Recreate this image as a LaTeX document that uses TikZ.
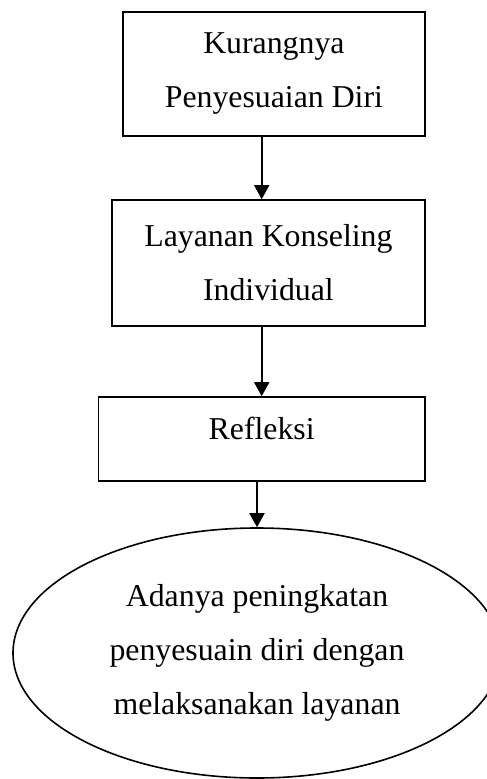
\documentclass[tikz,border=0pt]{standalone}
\usepackage{fontspec}
\setmainfont{Liberation Serif}
\usetikzlibrary{arrows.meta}
\usetikzlibrary{shapes.geometric}

\begin{document}
\begin{tikzpicture}[x=1pt, y=1pt,
    kotak/.style={draw, line width=1.6pt, align=center, inner sep=0pt,
      font=\fontsize{31.8}{54}\selectfont},
    panah/.style={line width=1.9pt, -{Triangle[width=15pt, length=14pt]}}]
    \useasboundingbox (0,0) rectangle (487,-779);
    \clip (0,0) rectangle (487,-779);
    % kotak-kotak alur
    \node[kotak, minimum width=302.3pt, minimum height=124pt] (kurang) at (273.9,-74) {Kurangnya\\Penyesuaian Diri};
    \node[kotak, minimum width=313.3pt, minimum height=126pt] (layanan) at (268.4,-263) {Layanan Konseling\\Individual};
    \node[kotak, minimum width=326.7pt, minimum height=84pt, text depth=22pt] (refleksi) at (261.7,-439) {Refleksi};
    \node[kotak, ellipse, minimum width=488pt, minimum height=250pt] (hasil) at (257,-653) {Adanya peningkatan\\penyesuain diri dengan\\melaksanakan layanan};
    % panah
    \coordinate (sumbu) at (261.7,0);
    \coordinate (sumbu2) at (257,0);
    \draw[panah] (kurang.south -| sumbu) -- (layanan.north -| sumbu);
    \draw[panah] (layanan.south -| sumbu) -- (refleksi.north -| sumbu);
    \draw[panah] (refleksi.south -| sumbu2) -- (hasil.north);
\end{tikzpicture}
\end{document}
